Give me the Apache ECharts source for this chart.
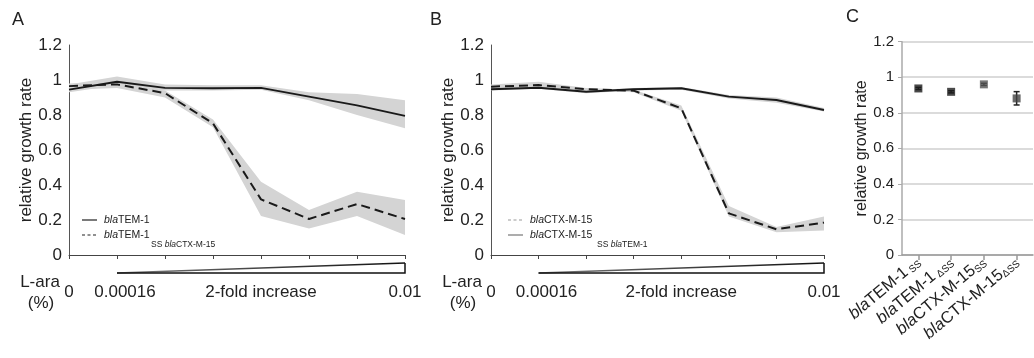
<!DOCTYPE html>
<html><head><meta charset="utf-8">
<script src="https://cdn.jsdelivr.net/npm/echarts@6/dist/echarts.min.js"></script>
<style>html,body{margin:0;padding:0;background:#fff}#c{width:1034px;height:358px}</style>
</head><body><div id="c"></div>
<script>
// ---- data ----
const conc = ['0','0.00016','0.00031','0.000625','0.00125','0.0025','0.005','0.01'];
const xTickLabels = ['0','0.00016','','','2-fold increase','','','0.01'];

// Panel A
const aTem = [0.945,0.99,0.955,0.953,0.955,0.905,0.855,0.795];
const aTemLow = [0.93,0.97,0.94,0.94,0.945,0.885,0.80,0.725];
const aTemHigh = [0.975,1.02,0.975,0.97,0.97,0.93,0.92,0.885];
const aTemSS = [0.965,0.975,0.925,0.752,0.318,0.206,0.291,0.206];
const aTemSSLow = [0.945,0.955,0.90,0.73,0.223,0.152,0.223,0.114];
const aTemSSHigh = [0.98,0.99,0.94,0.775,0.419,0.257,0.362,0.314];

// Panel B
const bCtxSS = [0.947,0.956,0.933,0.947,0.953,0.905,0.886,0.829];
const bCtxSSLow = [0.94,0.95,0.925,0.94,0.945,0.895,0.87,0.82];
const bCtxSSHigh = [0.955,0.965,0.94,0.955,0.96,0.915,0.90,0.84];
const bCtx = [0.962,0.971,0.947,0.939,0.838,0.238,0.147,0.185];
const bCtxLow = [0.95,0.955,0.94,0.93,0.825,0.22,0.13,0.14];
const bCtxHigh = [0.975,0.99,0.955,0.945,0.855,0.28,0.16,0.22];

// Panel C
const cCats = ['blaTEM-1 SS','blaTEM-1 \u0394SS','blaCTX-M-15 SS','blaCTX-M-15 \u0394SS'];
const cLabelRich = ['{i|bla}TEM-1{s| SS}','{i|bla}TEM-1{s| \u0394SS}','{i|bla}CTX-M-15{s|SS}','{i|bla}CTX-M-15{s|\u0394SS}'];
const cValues = [0.937,0.918,0.96,0.881];
const cErrLow = [0.931,0.912,0.954,0.844];
const cErrHigh = [0.943,0.924,0.966,0.919];
const cColors = ['#1c1c1c','#1c1c1c','#555555','#444444'];

// ---- chart ----
const FONT = 'Liberation Sans, Arial, sans-serif';
const chart = echarts.init(document.getElementById('c'), null, {renderer:'canvas'});
const diff = (h,l) => h.map((v,i)=>+(v-l[i]).toFixed(4));

function lineXAxis(gi){
  return {type:'category', gridIndex:gi, data:conc, boundaryGap:false,
    axisLine:{lineStyle:{color:'#444',width:1}},
    axisTick:{show:true,length:4,lineStyle:{color:'#444'}},
    axisLabel:{margin:29, fontSize:17, color:'#222', fontFamily:FONT,
      formatter:(v,i)=> i===1 ? '{p|'+xTickLabels[i]+'}' : xTickLabels[i], interval:0,
      rich:{p:{fontSize:17,color:'#222',padding:[0,0,0,16]}}},
    splitLine:{show:false}};
}
function lineYAxis(gi){
  return {type:'value', gridIndex:gi, min:0, max:1.2, interval:0.2,
    axisLine:{show:true,lineStyle:{color:'#555',width:1}},
    axisTick:{show:false},
    axisLabel:{fontSize:17,color:'#222',fontFamily:FONT,margin:7,
      formatter:v=>String(+v.toFixed(1))},
    splitLine:{show:false},
    name:'relative growth rate', nameLocation:'middle', nameGap:33,
    nameTextStyle:{fontSize:17,color:'#222',fontFamily:FONT}};
}
function band(xi,low,high,stack){
  return [
    {type:'line',xAxisIndex:xi,yAxisIndex:xi,data:low,stack:stack,symbol:'none',silent:true,
      lineStyle:{opacity:0},z:1},
    {type:'line',xAxisIndex:xi,yAxisIndex:xi,data:diff(high,low),stack:stack,symbol:'none',silent:true,
      lineStyle:{opacity:0},areaStyle:{color:'#d4d4d4',opacity:1},z:1}
  ];
}
function mainLine(xi,data,dashed,name){
  return {type:'line',name:name,xAxisIndex:xi,yAxisIndex:xi,data:data,symbol:'none',z:3,
    lineStyle:{color:'#1a1a1a',width:2,type:dashed?[9,5]:'solid'}};
}

const option = {
  animation:false,
  textStyle:{fontFamily:FONT},
  grid:[
    {left:69,right:629,top:45,bottom:103},
    {left:491,right:210,top:45,bottom:103},
    {left:902,right:1,top:41.7,bottom:103}
  ],
  xAxis:[
    lineXAxis(0), lineXAxis(1),
    {type:'category',gridIndex:2,data:cCats,
      axisLine:{lineStyle:{color:'#999',width:1.5}},
      axisTick:{show:true,alignWithLabel:true,length:5,lineStyle:{color:'#999',width:1.5}},
      axisLabel:{rotate:40,fontSize:16.5,color:'#222',fontFamily:FONT,margin:5,interval:0,
        formatter:(v,i)=>cLabelRich[i],
        rich:{i:{fontStyle:'italic',fontSize:16.5,color:'#222'},
              s:{fontSize:10,color:'#222',verticalAlign:'bottom',padding:[6,0,0,0]}}}}
  ],
  yAxis:[
    lineYAxis(0), lineYAxis(1),
    {type:'value',gridIndex:2,min:0,max:1.2,interval:0.2,
      axisLine:{show:true,lineStyle:{color:'#aaa',width:1.5}},
      axisTick:{show:true,length:4,lineStyle:{color:'#aaa'}},
      axisLabel:{fontSize:15,color:'#222',fontFamily:FONT,margin:8,formatter:v=>String(+v.toFixed(1))},
      splitLine:{show:true,lineStyle:{color:'#cfcfcf',width:1.5}},
      name:'relative growth rate',nameLocation:'middle',nameGap:32,
      nameTextStyle:{fontSize:16,color:'#222',fontFamily:FONT}}
  ],
  series:[
    ...band(0,aTemLow,aTemHigh,'a1'),
    ...band(0,aTemSSLow,aTemSSHigh,'a2'),
    mainLine(0,aTem,false,'blaTEM-1'),
    mainLine(0,aTemSS,true,'blaTEM-1 SS blaCTX-M-15'),
    ...band(1,bCtxSSLow,bCtxSSHigh,'b1'),
    ...band(1,bCtxLow,bCtxHigh,'b2'),
    mainLine(1,bCtxSS,false,'blaCTX-M-15 SS blaTEM-1'),
    mainLine(1,bCtx,true,'blaCTX-M-15'),
    {type:'custom',xAxisIndex:2,yAxisIndex:2,z:2,
      data:cValues.map((v,i)=>[i,cErrLow[i],cErrHigh[i]]),
      renderItem:(params,api)=>{
        const lo=api.coord([api.value(0),api.value(1)]);
        const hi=api.coord([api.value(0),api.value(2)]);
        const st={stroke:'#222',lineWidth:1.5};
        return {type:'group',children:[
          {type:'line',shape:{x1:lo[0],y1:lo[1],x2:hi[0],y2:hi[1]},style:st},
          {type:'line',shape:{x1:lo[0]-3,y1:lo[1],x2:lo[0]+3,y2:lo[1]},style:st},
          {type:'line',shape:{x1:hi[0]-3,y1:hi[1],x2:hi[0]+3,y2:hi[1]},style:st}
        ]};
      }},
    {type:'scatter',xAxisIndex:2,yAxisIndex:2,symbol:'rect',symbolSize:8,z:3,
      data:cValues.map((v,i)=>({value:[i,v],itemStyle:{color:cColors[i]}}))}
  ]
};
chart.setOption(option);

// ---- decorations (positions derived from the axes) ----
function decor(gi, legend){
  const p1 = chart.convertToPixel({xAxisIndex:gi,yAxisIndex:gi},[1,0]);
  const p7 = chart.convertToPixel({xAxisIndex:gi,yAxisIndex:gi},[conc.length-1,0]);
  const p0 = chart.convertToPixel({xAxisIndex:gi,yAxisIndex:gi},[0,0]);
  const yb = p0[1]+18, yt = p0[1]+8;
  const els = [
    {type:'polygon',shape:{points:[[p1[0],yb],[p7[0],yt],[p7[0],yb]]},style:{fill:'#fff',stroke:null},z:5},
    {type:'line',shape:{x1:p1[0],y1:yb,x2:p7[0],y2:yt},
      style:{stroke:new echarts.graphic.LinearGradient(0,0,1,0,[{offset:0,color:'#777'},{offset:1,color:'#111'}]),lineWidth:1.3},z:6},
    {type:'polyline',shape:{points:[[p1[0],yb],[p7[0],yb],[p7[0],yt]]},style:{stroke:'#111',lineWidth:1.5,fill:null},z:6},
    {type:'text',x:p0[0]-29,y:p0[1]+27,style:{text:'L-ara',fontSize:17,fill:'#222',fontFamily:FONT,align:'center',verticalAlign:'middle'},z:6},
    {type:'text',x:p0[0]-28,y:p0[1]+48,style:{text:'(%)',fontSize:17,fill:'#222',fontFamily:FONT,align:'center',verticalAlign:'middle'},z:6}
  ];
  const lx = p0[0]+legend.dx;
  legend.items.forEach((it,k)=>{
    const y = 220 + k*15;
    els.push({type:'line',shape:{x1:lx,y1:y,x2:lx+15,y2:y},
      style:{stroke:it.color,lineWidth:1.2,lineDash:it.dashed?[3,2.5]:null},z:6});
    els.push({type:'text',x:lx+22,y:y,style:{text:'{i|bla}'+it.text,fontSize:10.5,fill:'#222',fontFamily:FONT,
      verticalAlign:'middle',rich:{i:{fontStyle:'italic',fontSize:10.5}}},z:6});
    if(it.sub){
      els.push({type:'text',x:lx+22+it.subOff,y:y+10,style:{text:'SS {i|bla}'+it.sub,fontSize:8.5,fill:'#222',fontFamily:FONT,
        verticalAlign:'middle',rich:{i:{fontStyle:'italic',fontSize:8.5}}},z:6});
    }
  });
  return els;
}
const graphics = [
  ...decor(0,{dx:13,items:[{text:'TEM-1',color:'#222',dashed:false},{text:'TEM-1',color:'#222',dashed:true,sub:'CTX-M-15',subOff:47}]}),
  ...decor(1,{dx:17,items:[{text:'CTX-M-15',color:'#999',dashed:true},{text:'CTX-M-15',color:'#777',dashed:false,sub:'TEM-1',subOff:67}]}),
  {type:'text',left:12,top:11,style:{text:'A',fontSize:18,fill:'#222',fontFamily:FONT}},
  {type:'text',left:430,top:11,style:{text:'B',fontSize:18,fill:'#222',fontFamily:FONT}},
  {type:'text',left:846,top:8,style:{text:'C',fontSize:18,fill:'#222',fontFamily:FONT}}
];
chart.setOption({graphic:graphics});
</script></body></html>
